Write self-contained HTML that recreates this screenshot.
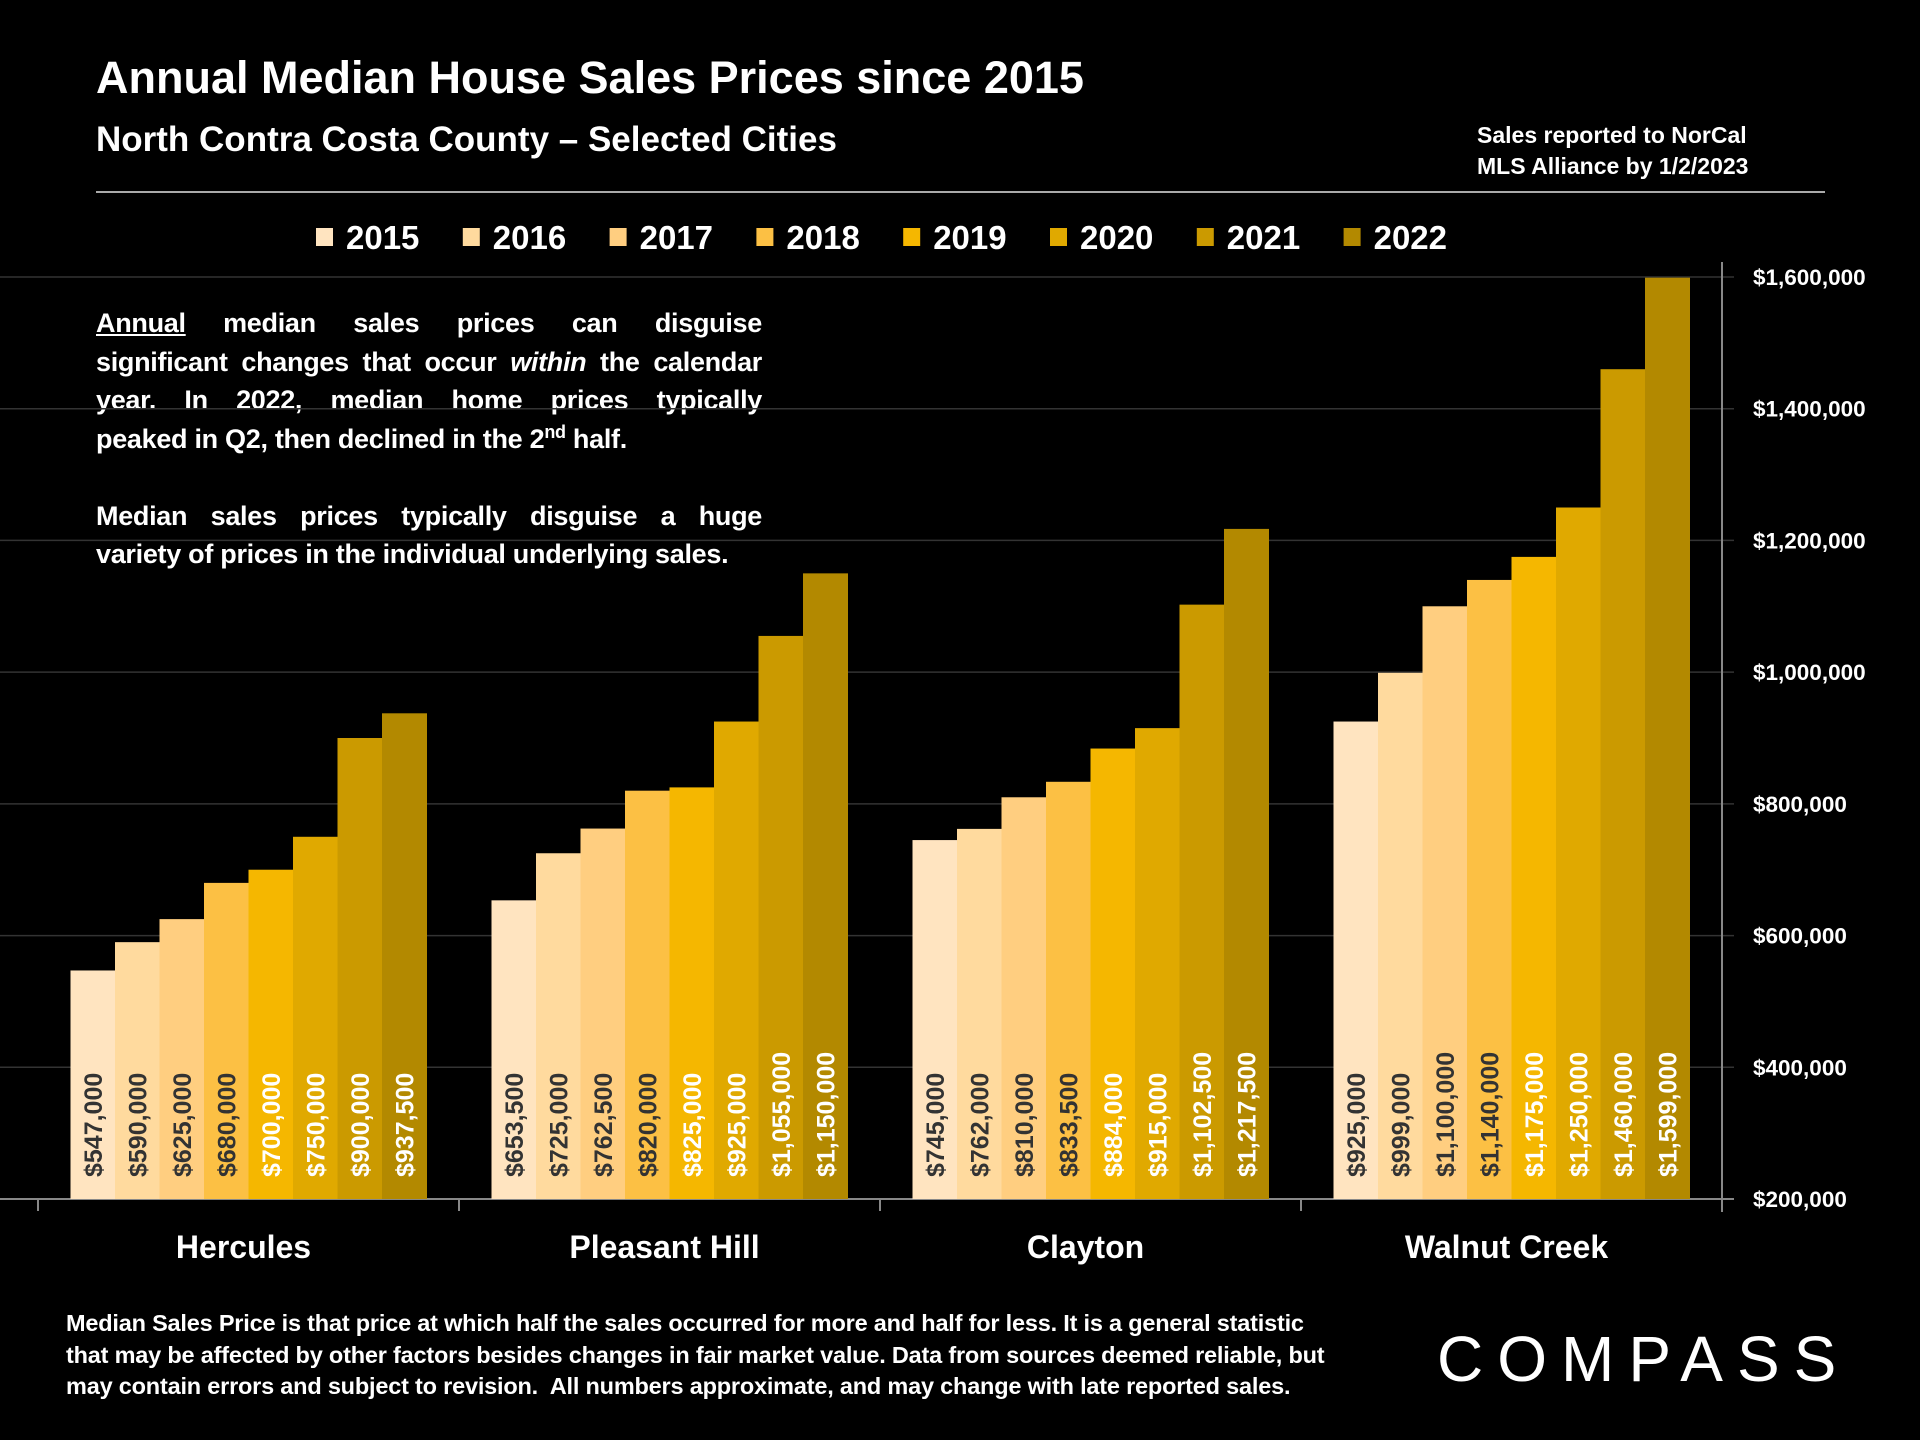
<!DOCTYPE html>
<html><head><meta charset="utf-8"><style>
html,body{margin:0;padding:0;background:#000;}
body{width:1920px;height:1440px;position:relative;overflow:hidden;font-family:"Liberation Sans",Arial,sans-serif;color:#fff;font-weight:bold;}
.abs{position:absolute;}
.j{display:block;text-align:justify;text-align-last:justify;white-space:nowrap;}
</style></head><body>
<div class="abs" style="left:96px;top:52px;font-size:45px;">Annual Median House Sales Prices since 2015</div>
<div class="abs" style="left:96px;top:120px;font-size:35px;">North Contra Costa County – Selected Cities</div>
<div class="abs" style="left:1477px;top:120px;font-size:23px;line-height:31px;">Sales reported to NorCal<br>MLS Alliance by 1/2/2023</div>
<div class="abs" style="left:96px;top:191px;width:1729px;height:2px;background:#aaa;"></div>
<div class="abs" style="left:96px;top:304px;width:666px;font-size:27px;line-height:38.5px;letter-spacing:-0.3px;">
<span class="j"><span style="text-decoration:underline">Annual</span> median sales prices can disguise</span>
<span class="j">significant changes that occur <i>within</i> the calendar</span>
<span class="j">year. In 2022, median home prices typically</span>
<span style="display:block">peaked in Q2, then declined in the 2<sup style="font-size:18px;line-height:0">nd</sup> half.</span>
<span style="display:block">&nbsp;</span>
<span class="j">Median sales prices typically disguise a huge</span>
<span style="display:block;white-space:nowrap">variety of prices in the individual underlying sales.</span></div>
<div class="abs" style="left:66px;top:1308px;font-size:23.5px;line-height:31.5px;white-space:nowrap;letter-spacing:-0.2px;">Median Sales Price is that price at which half the sales occurred for more and half for less. It is a general statistic<br>that may be affected by other factors besides changes in fair market value. Data from sources deemed reliable, but<br>may contain errors and subject to revision.&nbsp; All numbers approximate, and may change with late reported sales.</div>
<div class="abs" style="left:1437px;top:1322px;font-size:64px;letter-spacing:14px;font-weight:normal;">COMPASS</div>
<svg id="chart" class="abs" style="left:0;top:0" width="1920" height="1440"></svg>
<script>
const categories=["Hercules","Pleasant Hill","Clayton","Walnut Creek"];
const years=["2015","2016","2017","2018","2019","2020","2021","2022"];
const v2015=[547000,653500,745000,925000];
const v2016=[590000,725000,762000,999000];
const v2017=[625000,762500,810000,1100000];
const v2018=[680000,820000,833500,1140000];
const v2019=[700000,825000,884000,1175000];
const v2020=[750000,925000,915000,1250000];
const v2021=[900000,1055000,1102500,1460000];
const v2022=[937500,1150000,1217500,1599000];
const yTicks=[200000,400000,600000,800000,1000000,1200000,1400000,1600000];
const series=[v2015,v2016,v2017,v2018,v2019,v2020,v2021,v2022];
const colors=["#FFE4C0","#FFDA9E","#FFCE80","#FCC044","#F5B700","#E0A900","#CB9A00","#B38900"];
const NS="http://www.w3.org/2000/svg";
const svg=document.getElementById('chart');
const X0=38,X1=1722,Y0=1199,Y1=277,VMIN=200000,VMAX=1600000;
const y=v=>Y0-(v-VMIN)/(VMAX-VMIN)*(Y0-Y1);
const catW=(X1-X0)/categories.length;
const barW=44.5;
const fmt=v=>"$"+v.toLocaleString("en-US");
function mk(t,a){const e=document.createElementNS(NS,t);for(const k in a)e.setAttribute(k,a[k]);svg.appendChild(e);return e;}
yTicks.forEach(t=>{
  const g=mk('line',{x1:0,x2:X1+12,y1:y(t),y2:y(t),stroke:t===VMIN?'#888':'#333','stroke-width':t===VMIN?2:1.5});
  
  
  const tx=mk('text',{x:1753,y:y(t)+8,fill:'#fff','font-size':22.5,'font-weight':'bold','font-family':'Liberation Sans, sans-serif'});
  tx.textContent=fmt(t);
  
  
});
const ax=mk('line',{x1:X1,x2:X1,y1:262,y2:1212,stroke:'#888','stroke-width':2});


for(let i=0;i<=categories.length;i++){
  const tk=mk('line',{x1:X0+i*catW,x2:X0+i*catW,y1:Y0,y2:Y0+12,stroke:'#888','stroke-width':2});
  
  
}
categories.forEach((c,ci)=>{
  const cx=X0+ci*catW;
  const start=cx+(catW-barW*years.length)/2;
  series.forEach((s,si)=>{
    const bx=start+si*barW, by=y(s[ci]);
    const r=mk('rect',{x:bx,y:by,width:barW+0.5,height:Y0-by,fill:colors[si]});
    
    
    const tx=bx+barW/2+9, ty=1177;
    const t=mk('text',{x:tx,y:ty,transform:`rotate(-90 ${tx} ${ty})`,fill:si<4?'#333':'#fff','font-size':25,'font-family':'Liberation Sans, sans-serif'});
    t.textContent=fmt(s[ci]);
    
    
  });
  const l=mk('text',{x:cx+catW/2-5,y:1258,fill:'#fff','font-size':32,'font-weight':'bold','text-anchor':'middle','font-family':'Liberation Sans, sans-serif'});
  l.textContent=c;
  
  
});
years.forEach((yr,i)=>{
  const lx=316+i*146.8;
  const sq=mk('rect',{x:lx,y:228,width:17,height:18,fill:colors[i]});
  
  
  const t=mk('text',{x:lx+30,y:249,fill:'#fff','font-size':33,'font-weight':'bold','font-family':'Liberation Sans, sans-serif'});
  t.textContent=yr;
  
  
});
</script>
</body></html>
